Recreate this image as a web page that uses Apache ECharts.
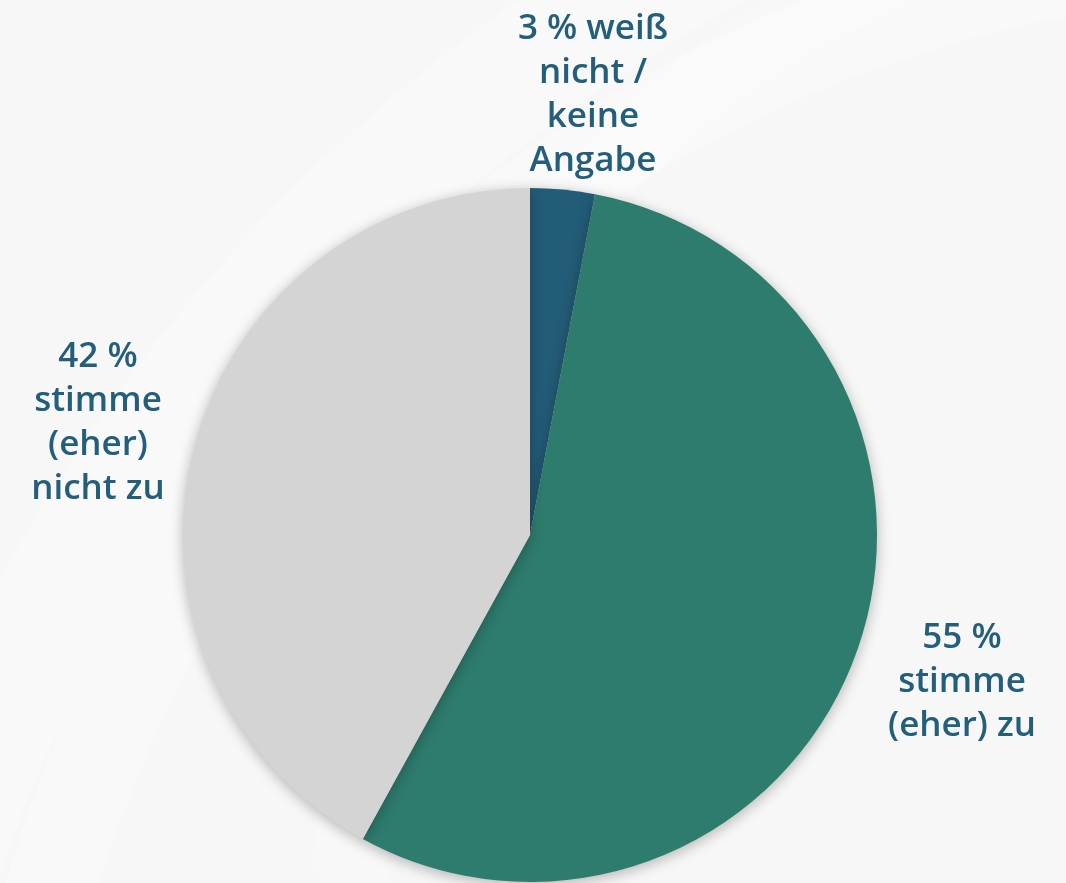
<!DOCTYPE html>
<html>
<head>
<meta charset="utf-8">
<script src="https://cdn.jsdelivr.net/npm/echarts@6/dist/echarts.min.js"></script>
<style>
  html, body { margin: 0; padding: 0; background: #f7f7f7; }
  #chart { width: 1066px; height: 883px; }
</style>
</head>
<body>
<div id="chart"></div>
<script>
// Survey answers, in percent (clockwise from 12 o'clock)
const categories = ['weiß\nnicht /\nkeine\nAngabe', 'stimme\n(eher) zu', 'stimme\n(eher)\nnicht zu'];
const values = [3, 55, 42];
// text between the percentage and the answer text
const joiners = [' ', '\n', '\n'];
const colors = ['#235c78', '#2e7c6e', '#d4d4d4'];

// label anchor (top centre of each text block)
const labelAnchors = [[593, 7], [962, 616], [98, 335]];

const chart = echarts.init(document.getElementById('chart'), null, { renderer: 'canvas' });

const option = {
  backgroundColor: '#f7f7f7',
  graphic: [
    // faint lighter sweeps in the backdrop
    { type: 'circle', shape: { cx: 1500, cy: 1400, r: 1650 }, style: { fill: 'none', stroke: 'rgba(255,255,255,0.3)', lineWidth: 120 }, z: -10, silent: true },
    { type: 'circle', shape: { cx: 1300, cy: 1250, r: 1300 }, style: { fill: 'none', stroke: 'rgba(255,255,255,0.25)', lineWidth: 90 }, z: -10, silent: true },
    { type: 'circle', shape: { cx: 1250, cy: 800, r: 900 }, style: { fill: 'none', stroke: 'rgba(255,255,255,0.22)', lineWidth: 70 }, z: -10, silent: true }
  ],
  series: [{
    type: 'pie',
    center: [530, 535],
    radius: [0, 347],
    startAngle: 90,
    clockwise: true,
    silent: true,
    animation: false,
    itemStyle: {
      borderWidth: 0,
      shadowBlur: 14,
      shadowColor: 'rgba(0,0,0,0.28)',
      shadowOffsetX: 0,
      shadowOffsetY: 3
    },
    label: {
      show: true,
      position: 'outside',
      formatter: p => p.value + ' %' + joiners[p.dataIndex] + p.name,
      color: '#235e7b',
      fontFamily: '"Open Sans", "Noto Sans", sans-serif',
      fontWeight: 600,
      fontSize: 35,
      lineHeight: 44,
      align: 'center'
    },
    labelLine: { show: false },
    labelLayout: params => ({
      x: labelAnchors[params.dataIndex][0],
      y: labelAnchors[params.dataIndex][1],
      align: 'center',
      verticalAlign: 'top'
    }),
    data: categories.map((name, i) => ({
      name,
      value: values[i],
      itemStyle: { color: colors[i] }
    }))
  }]
};

chart.setOption(option);
</script>
</body>
</html>
